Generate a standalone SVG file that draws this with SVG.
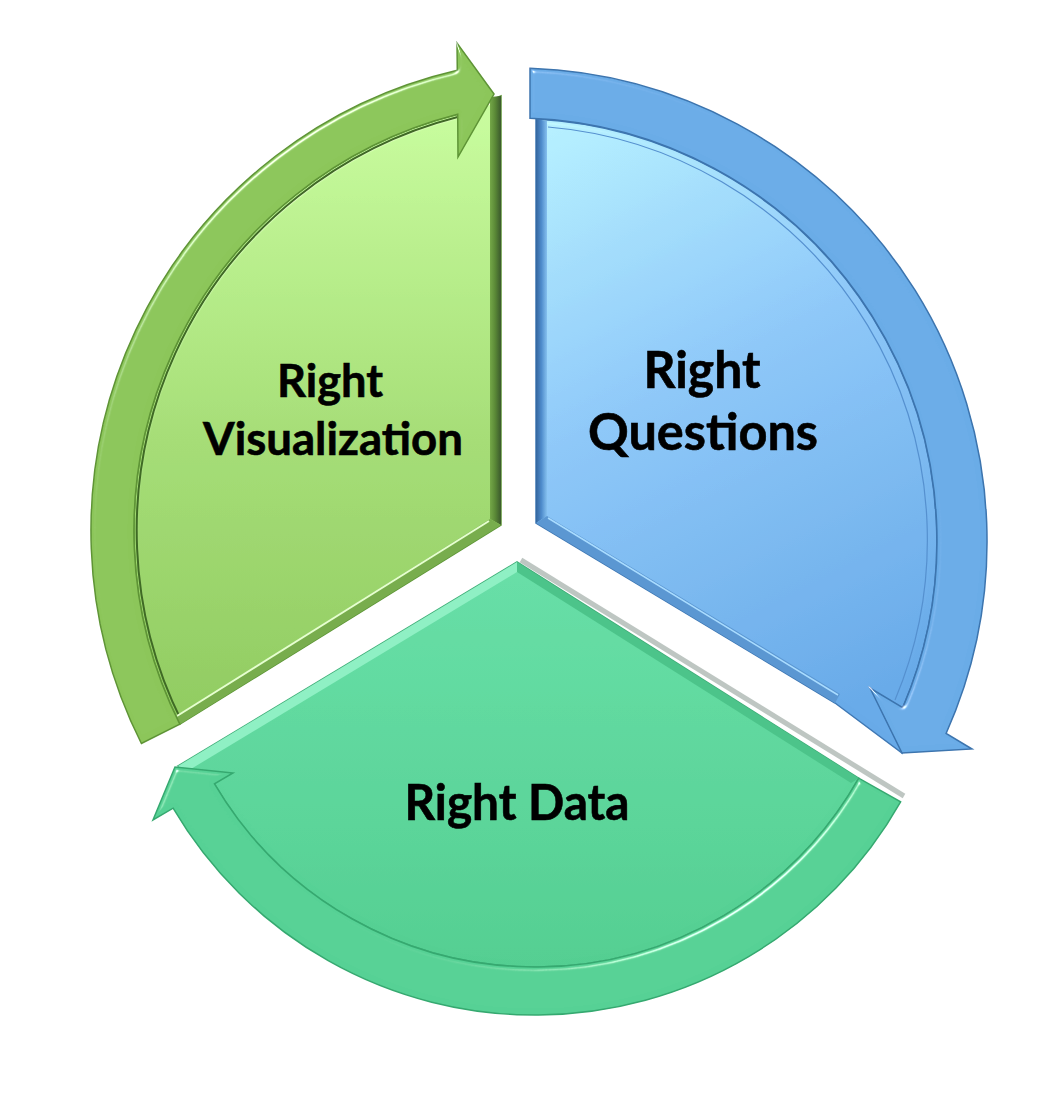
<svg xmlns="http://www.w3.org/2000/svg" width="1063" height="1105" viewBox="0 0 1063 1105">
<defs>
  <style>
    .lbl { font-family: Lato, "Open Sans", "Liberation Sans", sans-serif; font-weight: 700; fill: #000; stroke: #000; stroke-width: 0.6; text-anchor: middle; }
    .pieLime { fill: url(#gLime); stroke: #5f9638; stroke-width: 1.5; }
    .pieBlue { fill: url(#gBlue); stroke: #3f78b4; stroke-width: 1.5; }
    .pieGreen { fill: url(#gGreen); stroke: #3fae78; stroke-width: 1.5; }
    .bandLime { fill: #8cc65a; stroke: #5e9436; stroke-width: 1.5; }
    .bandBlue { fill: #6aace7; stroke: #3c74ae; stroke-width: 1.5; }
    .bandGreen { fill: #56d195; stroke: #36a970; stroke-width: 1.5; }
  </style>
  <linearGradient id="gLime" gradientUnits="userSpaceOnUse" x1="300" y1="100" x2="300" y2="720">
    <stop offset="0" stop-color="#c9fd9f"/>
    <stop offset="0.55" stop-color="#a5dd76"/>
    <stop offset="1" stop-color="#90cb60"/>
  </linearGradient>
  <linearGradient id="gBlue" gradientUnits="userSpaceOnUse" x1="560" y1="120" x2="860" y2="700">
    <stop offset="0" stop-color="#b6f0ff"/>
    <stop offset="0.45" stop-color="#8dc7f8"/>
    <stop offset="1" stop-color="#68aae8"/>
  </linearGradient>
  <linearGradient id="gGreen" gradientUnits="userSpaceOnUse" x1="517" y1="560" x2="517" y2="970">
    <stop offset="0" stop-color="#67dfa7"/>
    <stop offset="1" stop-color="#53ce91"/>
  </linearGradient>
  <linearGradient id="limeEdgeV" gradientUnits="userSpaceOnUse" x1="488" y1="0" x2="502" y2="0">
    <stop offset="0" stop-color="#7fb34f"/>
    <stop offset="0.5" stop-color="#5b8a37"/>
    <stop offset="1" stop-color="#35502a"/>
  </linearGradient>
  <linearGradient id="blueEdgeV" gradientUnits="userSpaceOnUse" x1="535" y1="0" x2="548" y2="0">
    <stop offset="0" stop-color="#2f5f96"/>
    <stop offset="0.5" stop-color="#4f8ccc"/>
    <stop offset="1" stop-color="#8fcaf5"/>
  </linearGradient>
  <filter id="bevel" x="-5%" y="-5%" width="110%" height="110%">
    <feGaussianBlur in="SourceAlpha" stdDeviation="2.5" result="blur"/>
    <feSpecularLighting in="blur" surfaceScale="4" specularConstant="0.8" specularExponent="60" lighting-color="#ffffff" result="spec">
      <feDistantLight azimuth="235" elevation="40"/>
    </feSpecularLighting>
    <feComposite in="spec" in2="SourceAlpha" operator="in" result="specIn"/>
    <feComposite in="SourceGraphic" in2="specIn" operator="arithmetic" k1="0" k2="1" k3="1" k4="0"/>
  </filter>
</defs>

<g id="node-visualization">
  <path class="pieLime" filter="url(#bevel)" d="M 501,525 L 501,96 L 457.7,114.3 A 430 430 0 0 0 179.8,724.2 Z"/>
  <path d="M 457.7,117 A 427 427 0 0 0 182,722" stroke="#3f6a25" stroke-width="2" fill="none"/>
  <path d="M 490,97 L 501,96 L 501,525 L 490,519 Z" fill="url(#limeEdgeV)"/>
  <path d="M 501,525 L 179.8,724.2 L 175.5,716.8 L 490,519 Z" fill="#78ad4d"/>
  <path d="M 177,716 L 489,521" stroke="#e6ffd0" stroke-width="2" fill="none"/>
  <text class="lbl" x="330" y="397" font-size="46" textLength="106" lengthAdjust="spacingAndGlyphs">Right</text>
  <text class="lbl" x="333" y="455" font-size="46" textLength="260" lengthAdjust="spacingAndGlyphs">Visualization</text>
</g>

<g id="node-questions">
  <path class="pieBlue" filter="url(#bevel)" d="M 536,523 L 536,119 A 423 423 0 0 1 902.8,707.6 L 902,753 L 835,703 Z"/>
  <path d="M 536,119 L 547,121 L 547,516 L 536,523 Z" fill="url(#blueEdgeV)"/>
  <path d="M 536,523 L 835,703 L 840,694 L 547,516 Z" fill="#5b97d2"/>
  <path d="M 548,518 L 838,695" stroke="#a9dcff" stroke-width="1.5" fill="none"/>
  <path d="M 548,127 A 414 414 0 0 1 895,700" stroke="#5590cf" stroke-width="1.2" fill="none"/>
  <text class="lbl" x="702" y="388" font-size="51" textLength="117" lengthAdjust="spacingAndGlyphs">Right</text>
  <text class="lbl" x="703" y="450" font-size="51" textLength="230" lengthAdjust="spacingAndGlyphs">Questions</text>
</g>

<g id="node-data">
  <path d="M 521,560 L 904,796" stroke="#a3aea8" stroke-width="5" fill="none" opacity="0.7"/>
  <path class="pieGreen" filter="url(#bevel)" d="M 517,562 L 178,766 L 214.5,783.8 A 372 372 0 0 0 858.8,778.2 Z"/>
  <path d="M 517,562 L 178,766 L 186,772 L 517,572 Z" fill="#8ff0c4"/>
  <path d="M 517,562 L 858.8,778.2 L 851,783 L 517,572 Z" fill="#4cc48a"/>
  <text class="lbl" x="517" y="820" font-size="50" textLength="225" lengthAdjust="spacingAndGlyphs">Right Data</text>
</g>

<g id="connectors">
  <path id="arrow-viz-to-questions" class="bandLime" filter="url(#bevel)" d="M 494,94 L 457,43 L 457.3,70.2 A 473 473 0 0 0 141.4,743.5 L 179.8,724.2 A 430 430 0 0 1 457.7,114.3 L 458,157 Z"/>
  <path id="arrow-questions-to-data" class="bandBlue" filter="url(#bevel)" d="M 530,68.3 A 473 473 0 0 1 946.1,733.5 L 972,749 L 902,753 L 870,688 L 902.8,707.6 A 423 423 0 0 0 530,118.3 Z"/>
  <path id="arrow-data-to-viz" class="bandGreen" filter="url(#bevel)" d="M 175,767 L 153,820 L 173.1,808.2 A 420 420 0 0 0 900.6,801.8 L 858.8,778.2 A 372 372 0 0 1 214.5,783.8 L 233,773 Z"/>
</g>
</svg>
